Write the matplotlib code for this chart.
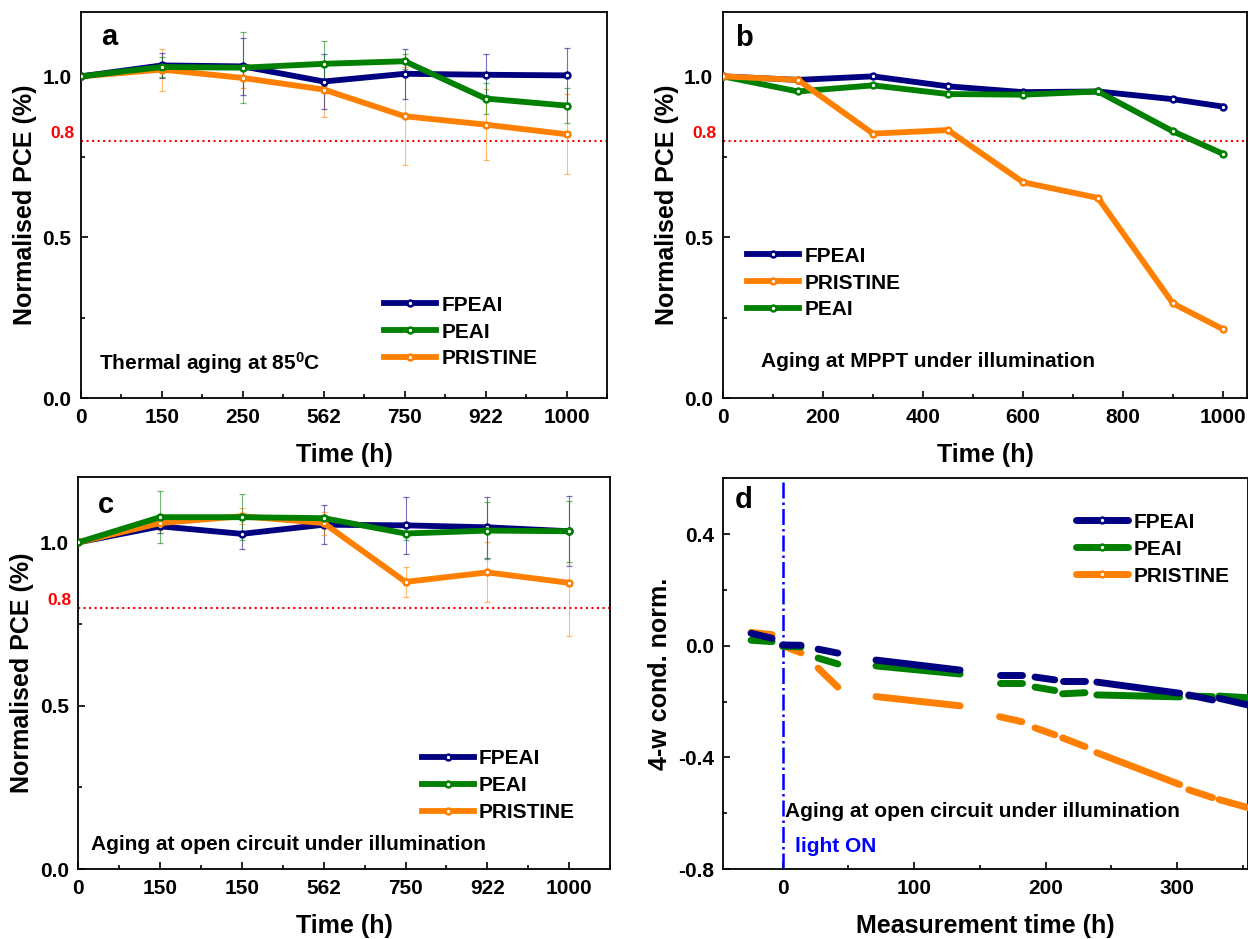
import matplotlib
matplotlib.use('Agg')
import matplotlib.pyplot as plt
import matplotlib.transforms as mtransforms
from matplotlib.lines import Line2D
from matplotlib.ticker import MultipleLocator, FormatStrFormatter, FixedLocator

# --- 1. Fonts / style ---
plt.rcParams['font.family'] = ['Liberation Sans', 'DejaVu Sans']
plt.rcParams['font.weight'] = 'bold'
plt.rcParams['axes.labelweight'] = 'bold'
plt.rcParams['mathtext.fontset'] = 'custom'
plt.rcParams['mathtext.rm'] = 'Liberation Sans:bold'
plt.rcParams['mathtext.bf'] = 'Liberation Sans:bold'
plt.rcParams['mathtext.default'] = 'bf'

C_FPEAI = '#000080'
C_PEAI = '#008000'
C_PRISTINE = '#FF8000'

# --- 2. Data ---
# panel a: thermal aging at 85 C (categorical time axis)
a_labels = ['0', '150', '250', '562', '750', '922', '1000']
a_fpeai = [1.0, 1.034, 1.031, 0.984, 1.008, 1.005, 1.003]
a_fpeai_err = [0, 0.040, 0.088, 0.085, 0.078, 0.063, 0.086]
a_peai = [1.0, 1.029, 1.027, 1.039, 1.047, 0.931, 0.909]
a_peai_err = [0, 0.031, 0.110, 0.070, 0.023, 0.048, 0.055]
a_pristine = [1.0, 1.021, 0.995, 0.959, 0.876, 0.850, 0.820]
a_pristine_err = [0, 0.065, 0.030, 0.085, 0.152, 0.110, 0.125]

# panel b: MPPT under illumination
b_time = [0, 150, 300, 450, 600, 750, 900, 1000]
b_fpeai = [1.0, 0.989, 1.0, 0.969, 0.951, 0.953, 0.929, 0.906]
b_peai = [1.0, 0.953, 0.972, 0.945, 0.943, 0.953, 0.829, 0.759]
b_pristine = [1.0, 0.989, 0.822, 0.833, 0.671, 0.622, 0.294, 0.214]

# panel c: open circuit under illumination (categorical time axis)
c_labels = ['0', '150', '150', '562', '750', '922', '1000']
c_fpeai = [1.0, 1.049, 1.026, 1.054, 1.052, 1.046, 1.034]
c_fpeai_err = [0, 0.020, 0.046, 0.060, 0.088, 0.093, 0.107]
c_peai = [1.0, 1.077, 1.077, 1.074, 1.027, 1.036, 1.034]
c_peai_err = [0, 0.080, 0.070, 0.010, 0.020, 0.087, 0.094]
c_pristine = [1.0, 1.059, 1.080, 1.059, 0.879, 0.908, 0.876]
c_pristine_err = [0, 0.020, 0.025, 0.035, 0.047, 0.092, 0.162]

# panel d: 4-wire conductance, measured in separate runs (start/end of each run)
d_t_start = [-24, 0, 27, 71, 165, 192, 213, 239, 309, 332]
d_t_end = [-8, 14, 42, 135, 182, 207, 230, 302, 327, 354]
d_fpeai_start = [0.045, 0.003, -0.012, -0.051, -0.105, -0.112, -0.125, -0.130, -0.176, -0.188]
d_fpeai_end = [0.027, 0.002, -0.026, -0.087, -0.105, -0.122, -0.125, -0.170, -0.194, -0.212]
d_peai_start = [0.020, -0.002, -0.044, -0.072, -0.134, -0.148, -0.172, -0.176, -0.180, -0.180]
d_peai_end = [0.015, -0.004, -0.065, -0.101, -0.134, -0.160, -0.168, -0.183, -0.182, -0.186]
d_pristine_start = [0.048, 0.0, -0.080, -0.182, -0.254, -0.294, -0.330, -0.383, -0.516, -0.551]
d_pristine_end = [0.040, -0.025, -0.148, -0.215, -0.272, -0.319, -0.361, -0.497, -0.544, -0.580]

# --- 3. Figure ---
fig = plt.figure(figsize=(12.48, 9.39), dpi=100)
ax_a = fig.add_axes([0.0649, 0.5761, 0.4215, 0.4111])
ax_b = fig.add_axes([0.5793, 0.5761, 0.4199, 0.4111])
ax_c = fig.add_axes([0.0628, 0.0745, 0.4260, 0.4175])
ax_d = fig.add_axes([0.5797, 0.0745, 0.4203, 0.4160])

LW = 4.2
MK = dict(marker='o', ms=4.2, mfc='white', mew=1.8)


def style_axes(ax):
    for s in ax.spines.values():
        s.set_linewidth(1.3)
    ax.tick_params(which='both', direction='in', top=False, right=False,
                   labelsize=15, pad=7, width=1.2)
    ax.tick_params(which='major', length=5)
    ax.tick_params(which='minor', length=3)


def pce_axes(ax):
    ax.set_ylim(0, 1.2)
    ax.yaxis.set_major_locator(FixedLocator([0, 0.5, 1.0]))
    ax.yaxis.set_minor_locator(MultipleLocator(0.25))
    ax.yaxis.set_major_formatter(FormatStrFormatter('%.1f'))
    ax.set_ylabel('Normalised PCE (%)', fontsize=18, labelpad=4)
    ax.set_xlabel('Time (h)', fontsize=18, labelpad=12)
    ax.axhline(0.8, color='red', ls=':', lw=1.5, zorder=1)
    trans = mtransforms.blended_transform_factory(ax.transAxes, ax.transData)
    ax.text(-0.012, 0.822, '0.8', color='red', fontsize=12.5,
            ha='right', va='center', transform=trans)
    style_axes(ax)


def categorical_panel(ax, labels, series, order):
    x = list(range(len(labels)))
    handles = {}
    for name, y, err, col, z in series:
        ax.errorbar(x, y, yerr=err, fmt='none', ecolor=col, elinewidth=0.8,
                    capsize=2.5, capthick=0.9, alpha=0.55, zorder=2)
        ln, = ax.plot(x, y, color=col, lw=LW, mec=col, zorder=z, label=name, **MK)
        handles[name] = ln
    ax.set_xlim(0, len(labels) - 0.5)
    ax.set_xticks(x)
    ax.set_xticklabels(labels)
    ax.xaxis.set_minor_locator(MultipleLocator(0.5))
    pce_axes(ax)
    return [handles[n] for n in order]


LEG = dict(frameon=False, fontsize=15, handlelength=2.5, handletextpad=0.25,
           labelspacing=0.38, borderpad=0, borderaxespad=0, numpoints=1,
           loc='center left')

# --- 4. Panel a ---
h = categorical_panel(ax_a, a_labels, [
    ('PRISTINE', a_pristine, a_pristine_err, C_PRISTINE, 3),
    ('FPEAI', a_fpeai, a_fpeai_err, C_FPEAI, 4),
    ('PEAI', a_peai, a_peai_err, C_PEAI, 5),
], ['FPEAI', 'PEAI', 'PRISTINE'])
ax_a.legend(handles=h, bbox_to_anchor=(0.576, 0.171), **LEG)
ax_a.text(0.035, 0.109, 'Thermal aging at 85$^{0}$C', fontsize=15,
          va='center', transform=mtransforms.blended_transform_factory(ax_a.transAxes, ax_a.transData))
ax_a.text(0.038, 0.935, 'a', fontsize=21, va='center', transform=ax_a.transAxes)

# --- 5. Panel b ---
hb = {}
for name, y, col, z in [('FPEAI', b_fpeai, C_FPEAI, 3),
                        ('PEAI', b_peai, C_PEAI, 4),
                        ('PRISTINE', b_pristine, C_PRISTINE, 5)]:
    hb[name], = ax_b.plot(b_time, y, color=col, lw=LW, mec=col, zorder=z, label=name, **MK)
ax_b.set_xlim(0, 1048)
ax_b.xaxis.set_major_locator(MultipleLocator(200))
ax_b.xaxis.set_minor_locator(MultipleLocator(100))
pce_axes(ax_b)
ax_b.legend(handles=[hb['FPEAI'], hb['PRISTINE'], hb['PEAI']],
            bbox_to_anchor=(0.046, 0.298), **LEG)
ax_b.text(0.073, 0.113, 'Aging at MPPT under illumination', fontsize=15,
          va='center', transform=mtransforms.blended_transform_factory(ax_b.transAxes, ax_b.transData))
ax_b.text(0.023, 0.933, 'b', fontsize=21, va='center', transform=ax_b.transAxes)

# --- 6. Panel c ---
h = categorical_panel(ax_c, c_labels, [
    ('FPEAI', c_fpeai, c_fpeai_err, C_FPEAI, 3),
    ('PRISTINE', c_pristine, c_pristine_err, C_PRISTINE, 4),
    ('PEAI', c_peai, c_peai_err, C_PEAI, 5),
], ['FPEAI', 'PEAI', 'PRISTINE'])
ax_c.legend(handles=h, bbox_to_anchor=(0.646, 0.213), **LEG)
ax_c.text(0.023, 0.074, 'Aging at open circuit under illumination', fontsize=15,
          va='center', transform=mtransforms.blended_transform_factory(ax_c.transAxes, ax_c.transData))
ax_c.text(0.036, 0.929, 'c', fontsize=21, va='center', transform=ax_c.transAxes)

# --- 7. Panel d ---
hd = {}
for name, ys, ye, col, z in [('PRISTINE', d_pristine_start, d_pristine_end, C_PRISTINE, 3),
                             ('PEAI', d_peai_start, d_peai_end, C_PEAI, 4),
                             ('FPEAI', d_fpeai_start, d_fpeai_end, C_FPEAI, 5)]:
    for t0, t1, y0, y1 in zip(d_t_start, d_t_end, ys, ye):
        ax_d.plot([t0, t1], [y0, y1], color=col, lw=5, solid_capstyle='round', zorder=z)
    hd[name] = Line2D([], [], color=col, lw=5, mec=col, solid_capstyle='round', **MK)
ax_d.axvline(0, color='#0000FF', ls='-.', lw=1.8, zorder=2)
ax_d.set_xlim(-45, 354)
ax_d.set_ylim(-0.8, 0.6)
ax_d.xaxis.set_major_locator(MultipleLocator(100))
ax_d.xaxis.set_minor_locator(MultipleLocator(50))
ax_d.yaxis.set_major_locator(FixedLocator([-0.8, -0.4, 0.0, 0.4]))
ax_d.yaxis.set_minor_locator(MultipleLocator(0.2))
ax_d.yaxis.set_major_formatter(FormatStrFormatter('%.1f'))
ax_d.set_xlabel('Measurement time (h)', fontsize=18, labelpad=12)
ax_d.set_ylabel('4-w cond. norm.', fontsize=18, labelpad=4)
style_axes(ax_d)
ax_d.legend(handles=[hd['FPEAI'], hd['PEAI'], hd['PRISTINE']],
            labels=['FPEAI', 'PEAI', 'PRISTINE'],
            bbox_to_anchor=(0.672, 0.819), **LEG)
ax_d.text(1.8, -0.593, 'Aging at open circuit under illumination', fontsize=15, va='center')
ax_d.text(9.4, -0.718, 'light ON', fontsize=15, color='#0000FF', va='center')
ax_d.text(0.022, 0.944, 'd', fontsize=21, va='center', transform=ax_d.transAxes)

fig.savefig('out.png', dpi=100)
